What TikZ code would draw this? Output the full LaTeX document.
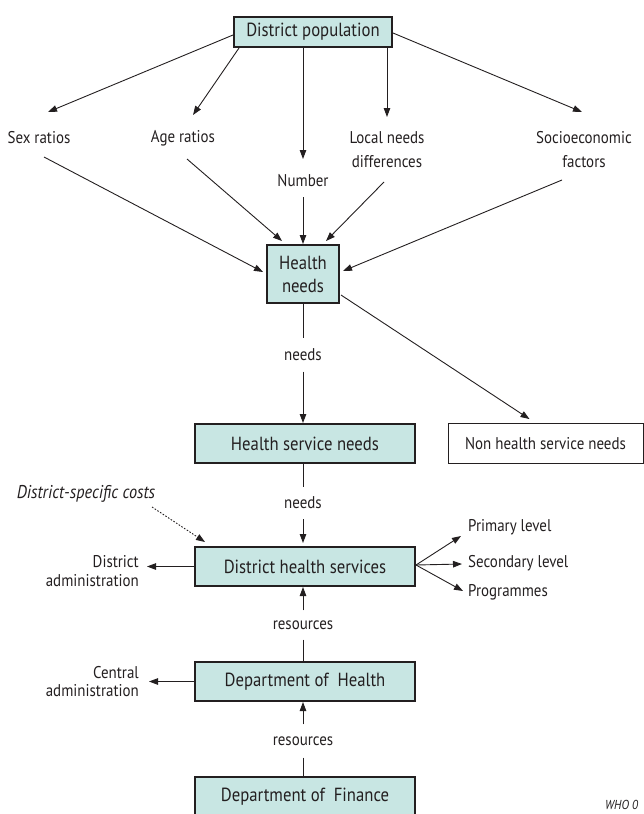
\documentclass[tikz,border=0pt]{standalone}
\usepackage{fontspec}
\setmainfont{PT Sans}[FakeStretch=0.88]
\usetikzlibrary{arrows.meta,calc}
\definecolor{boxfill}{RGB}{200,230,227}
\definecolor{ink}{RGB}{35,31,32}
\tikzset{
  mainbox/.style={draw=ink, line width=2.4pt, fill=boxfill, inner sep=0pt,
    font=\fontsize{19}{23}\selectfont, align=center, text=ink},
  plainbox/.style={draw=ink, line width=0.9pt, fill=white, inner sep=0pt,
    font=\fontsize{17}{22}\selectfont, text=ink},
  lbl/.style={font=\fontsize{17}{24}\selectfont, align=center, inner sep=0pt, text=ink},
  sidelbl/.style={font=\fontsize{17}{18.5}\selectfont, align=right, inner sep=0pt, text=ink},
  arr/.style={-{Triangle[length=9pt,width=6.5pt]}, line width=0.9pt, draw=ink},
  ln/.style={line width=0.9pt, draw=ink},
  dotarr/.style={-{Triangle[length=9pt,width=6.5pt]}, line width=0.9pt, draw=ink,
    dash pattern=on 1.6pt off 1.6pt},
}
\begin{document}
\begin{tikzpicture}[x=1pt,y=-1pt]
\useasboundingbox (0,0) rectangle (644,814);

% boxes
\node[mainbox, minimum width=157.6pt, minimum height=29.6pt] (dp) at (313,32) {District population};
\node[mainbox, minimum width=71.6pt, minimum height=57.6pt] (hn) at (303,274) {Health\\needs};
\node[mainbox, minimum width=219.6pt, minimum height=38.6pt] (hsn) at (305,443.5) {Health service needs};
\node[plainbox, minimum width=195pt, minimum height=40pt] (nhsn) at (545.5,443.5) {Non health service needs};
\node[mainbox, minimum width=219.6pt, minimum height=38.6pt] (dhs) at (305,566.5) {District health services};
\node[mainbox, minimum width=219.6pt, minimum height=38.6pt] (dh) at (305,681.5) {Department of\ \ Health};
\node[mainbox, minimum width=219.6pt, minimum height=38.6pt] (df) at (305,796.5) {Department of\ \ Finance};

% labels
\node[lbl] (sex) at (39,138) {Sex ratios};
\node[lbl] (age) at (183,138) {Age ratios};
\node[lbl] (num) at (303,181) {Number};
\node[lbl] (loc) at (387,150) {Local needs\\differences};
\node[lbl] (soc) at (584,150) {Socioeconomic\\factors};
\node[lbl, minimum height=33pt] (needsa) at (303,355) {needs};
\node[lbl, minimum height=32pt] (needsb) at (303,503) {needs};
\node[lbl, font=\fontsize{18.5}{24}\selectfont\itshape] (dsc) at (86,494) {District-specific costs};
\node[sidelbl, anchor=east] (dadm) at (139,571) {District\\administration};
\node[sidelbl, anchor=east] (cadm) at (139,681.5) {Central\\administration};
\node[lbl, anchor=west] (prim) at (468,527) {Primary level};
\node[lbl, anchor=west] (sec) at (468,563) {Secondary level};
\node[lbl, anchor=west] (prog) at (468,592) {Programmes};
\node[lbl, minimum height=29pt] (resa) at (303,625) {resources};
\node[lbl, minimum height=33pt] (resb) at (303,741) {resources};
\node[font=\fontsize{13}{15}\selectfont\itshape, text=ink, inner sep=0pt, anchor=west] (who) at (605,805) {WHO 0};

% district population to factors
\draw[arr] ($(dp.west)+(0,3)$) -- ($(sex.center)+(9,-26)$);
\draw[arr] ($(dp.south west)+(6,0)$) -- ($(age.center)+(10,-23)$);
\draw[arr] (dp.south -| num) -- ($(num.center)+(0,-22)$);
\draw[arr] (dp.south -| loc) -- ($(loc.center)+(0,-33)$);
\draw[arr] ($(dp.east)+(0,1)$) -- ($(soc.center)+(-2,-38)$);

% factors to health needs
\draw[arr] ($(sex.center)+(5,19)$) -- ($(hn.west)+(-3,-2)$);
\draw[arr] ($(age.center)+(4,21)$) -- ($(hn.north)+(-21,-3)$);
\draw[arr] ($(num.center)+(0,16)$) -- (hn.north);
\draw[arr] ($(loc.center)+(-3,32)$) -- ($(hn.north)+(23,-3)$);
\draw[arr] ($(soc.center)+(-22,30)$) -- ($(hn.east)+(3,-3)$);

% health needs downwards
\draw[ln] (hn.south) -- (needsa.north);
\draw[arr] (needsa.south) -- (needsa.south |- hsn.north);
\draw[arr] ($(hn.east)+(1,21)$) -- ($(nhsn.north)+(-16,-4)$);

\draw[ln] (hsn.south -| needsb) -- (needsb.north);
\draw[arr] (needsb.south) -- ($(needsb.south |- dhs.north)+(0,-3)$);
\draw[dotarr] ($(dsc.center)+(66,13)$) -- ($(dhs.north west)+(11,-4)$);

% district health services sides
\draw[arr] (dhs.west) -- ($(dadm.east |- dhs.west)+(8,0)$);
\draw[arr] ($(dhs.east)+(0,-1.5)$) -- ($(prim.west)+(-7,9)$);
\draw[arr] ($(dhs.east)+(0,-1.5)$) -- ($(sec.west)+(-6,1)$);
\draw[arr] ($(dhs.east)+(0,-1.5)$) -- ($(prog.west)+(-5,-1)$);

% resources
\draw[arr] (resa.north) -- (resa.north |- dhs.south);
\draw[ln] (resa.south) -- (resa.south |- dh.north);
\draw[arr] (dh.west) -- ($(cadm.east |- dh.west)+(10,0)$);
\draw[arr] (resb.north) -- (resb.north |- dh.south);
\draw[ln] (resb.south) -- (resb.south |- df.north);
\end{tikzpicture}
\end{document}
